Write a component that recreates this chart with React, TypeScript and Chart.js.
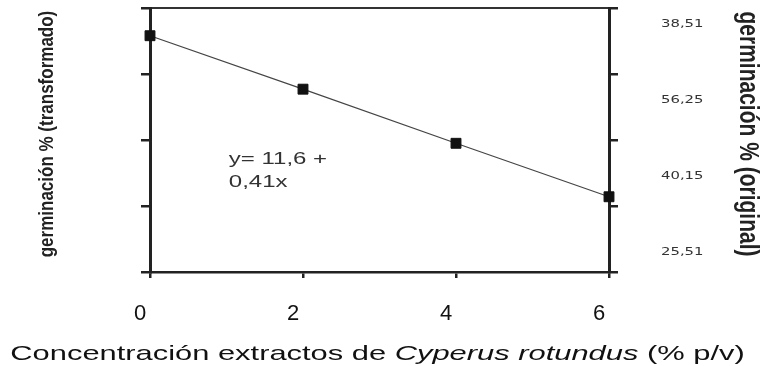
import React, { useEffect, useRef } from "react";
import { Chart, registerables } from "chart.js";

Chart.register(...registerables);

// ---- data ----
const concentrations = [0, 2, 4, 6];
const germinationTransformed = [35.8, 27.7, 19.5, 11.4];
const xTickValues = [0, 2, 4, 6];
const leftAxisRange = [0, 40];
const leftAxisStep = 10;
const rightTickLabels = ["38,51", "56,25", "40,15", "25,51"];
const rightTickValues = [37.6, 26.1, 14.5, 3.0];
const equationLines = ["y= 11,6 +", "0,41x"];
const equationX = 1.03;
const equationY = [17.0, 13.6];
const leftTitle = "germinación % (transformado)";
const rightTitle = "germinación % (original)";
const xTitleParts = [
  { text: "Concentración extractos de ", italic: false },
  { text: "Cyperus rotundus", italic: true },
  { text: " (% p/v)", italic: false },
];

const SANS = '"Liberation Sans", Arial, sans-serif';
const STRETCH = 1.47; // horizontal stretch of the source picture's text

const textPlugin = {
  id: "customText",
  afterDraw(chart: any) {
    const ctx = chart.ctx as CanvasRenderingContext2D;
    const { left, right, top, bottom } = chart.chartArea;
    const xs = chart.scales.x;
    const ys = chart.scales.y;
    const midY = (top + bottom) / 2 - 6;

    // right side labels
    ctx.save();
    ctx.fillStyle = "#333";
    ctx.font = '11px "DejaVu Sans", Verdana, sans-serif';
    ctx.textAlign = "left";
    ctx.textBaseline = "middle";
    rightTickLabels.forEach((lab, i) => {
      ctx.save();
      ctx.translate(right + 52, ys.getPixelForValue(rightTickValues[i]));
      ctx.scale(1.35, 1);
      ctx.fillText(lab, 0, 0);
      ctx.restore();
    });
    ctx.restore();

    // equation
    ctx.save();
    ctx.fillStyle = "#333";
    ctx.font = `16px ${SANS}`;
    ctx.textAlign = "left";
    ctx.textBaseline = "middle";
    equationLines.forEach((line, i) => {
      ctx.save();
      ctx.translate(xs.getPixelForValue(equationX), ys.getPixelForValue(equationY[i]));
      ctx.scale(1.5, 1);
      ctx.fillText(line, 0, 0);
      ctx.restore();
    });
    ctx.restore();

    // left title
    ctx.save();
    ctx.fillStyle = "#222";
    ctx.font = `bold 17px ${SANS}`;
    ctx.textAlign = "center";
    ctx.textBaseline = "middle";
    ctx.translate(47, midY);
    ctx.scale(1.2, 1);
    ctx.rotate(-Math.PI / 2);
    ctx.fillText(leftTitle, 0, 0);
    ctx.restore();

    // right title
    ctx.save();
    ctx.fillStyle = "#222";
    ctx.font = `bold 21px ${SANS}`;
    ctx.textAlign = "center";
    ctx.textBaseline = "middle";
    ctx.translate(chart.width - 16, midY);
    ctx.scale(1.35, 1);
    ctx.rotate(Math.PI / 2);
    ctx.fillText(rightTitle, 0, 0);
    ctx.restore();

    // x title (mixed italic)
    ctx.save();
    ctx.fillStyle = "#111";
    ctx.textAlign = "left";
    ctx.textBaseline = "alphabetic";
    const fonts = xTitleParts.map((p) => `${p.italic ? "italic " : ""}21px ${SANS}`);
    let total = 0;
    const widths = xTitleParts.map((p, i) => {
      ctx.font = fonts[i];
      const w = ctx.measureText(p.text).width;
      total += w;
      return w;
    });
    const startX = (left + right) / 2 - 2 - (total * STRETCH) / 2;
    ctx.translate(startX, bottom + 88);
    ctx.scale(STRETCH, 1);
    let cx = 0;
    xTitleParts.forEach((p, i) => {
      ctx.font = fonts[i];
      ctx.fillText(p.text, cx, 0);
      cx += widths[i];
    });
    ctx.restore();
  },
};

export default function App() {
  const canvasRef = useRef<HTMLCanvasElement | null>(null);

  useEffect(() => {
    const canvas = canvasRef.current;
    if (!canvas) return;
    const axisColor = "#222";
    const chart = new Chart(canvas, {
      type: "line",
      data: {
        datasets: [
          {
            data: concentrations.map((c, i) => ({ x: c, y: germinationTransformed[i] })),
            borderColor: "#444",
            borderWidth: 1.2,
            pointStyle: "rect",
            pointRadius: 7,
            pointBackgroundColor: "#111",
            pointBorderColor: "#111",
            pointBorderWidth: 1,
            tension: 0,
            clip: false,
            xAxisID: "x",
            yAxisID: "y",
          } as any,
        ],
      },
      options: {
        responsive: false,
        maintainAspectRatio: false,
        animation: false,
        layout: { padding: { top: 8, left: 0, right: 0, bottom: 0 } },
        plugins: { legend: { display: false }, tooltip: { enabled: false } },
        scales: {
          x: {
            type: "linear",
            position: "bottom",
            min: xTickValues[0],
            max: xTickValues[xTickValues.length - 1],
            afterBuildTicks: (s: any) => {
              s.ticks = xTickValues.map((v) => ({ value: v }));
            },
            afterFit: (s: any) => {
              s.height = 94;
            },
            ticks: {
              font: { family: SANS, size: 22 },
              color: "#111",
              padding: 23,
              labelOffset: -10,
              callback: (v: any) => String(v),
            },
            grid: { drawOnChartArea: false, drawTicks: true, tickLength: 6, color: axisColor, lineWidth: 2.5 },
            border: { display: true, color: axisColor, width: 2.5 },
          },
          x2: {
            type: "linear",
            position: "top",
            min: xTickValues[0],
            max: xTickValues[xTickValues.length - 1],
            ticks: { display: false },
            grid: { display: false },
            border: { display: true, color: "#333", width: 2 },
            afterFit: (s: any) => {
              s.height = 0;
            },
          },
          y: {
            type: "linear",
            position: "left",
            min: leftAxisRange[0],
            max: leftAxisRange[1],
            ticks: { display: false, stepSize: leftAxisStep },
            grid: { drawOnChartArea: false, drawTicks: true, tickLength: 9, color: axisColor, lineWidth: 2.5 },
            border: { display: true, color: axisColor, width: 3 },
            afterFit: (s: any) => {
              s.width = 150;
            },
          },
          y2: {
            type: "linear",
            position: "right",
            min: leftAxisRange[0],
            max: leftAxisRange[1],
            ticks: { display: false, stepSize: leftAxisStep },
            grid: { drawOnChartArea: false, drawTicks: true, tickLength: 9, color: axisColor, lineWidth: 2.5 },
            border: { display: true, color: axisColor, width: 3 },
            afterFit: (s: any) => {
              s.width = 155;
            },
          },
        },
      } as any,
      plugins: [textPlugin],
    });
    return () => chart.destroy();
  }, []);

  return (
    <div style={{ position: "fixed", left: 0, top: 0, width: 764, height: 366, background: "#fff" }}>
      <canvas ref={canvasRef} width={764} height={366} style={{ display: "block", width: 764, height: 366 }} />
    </div>
  );
}
